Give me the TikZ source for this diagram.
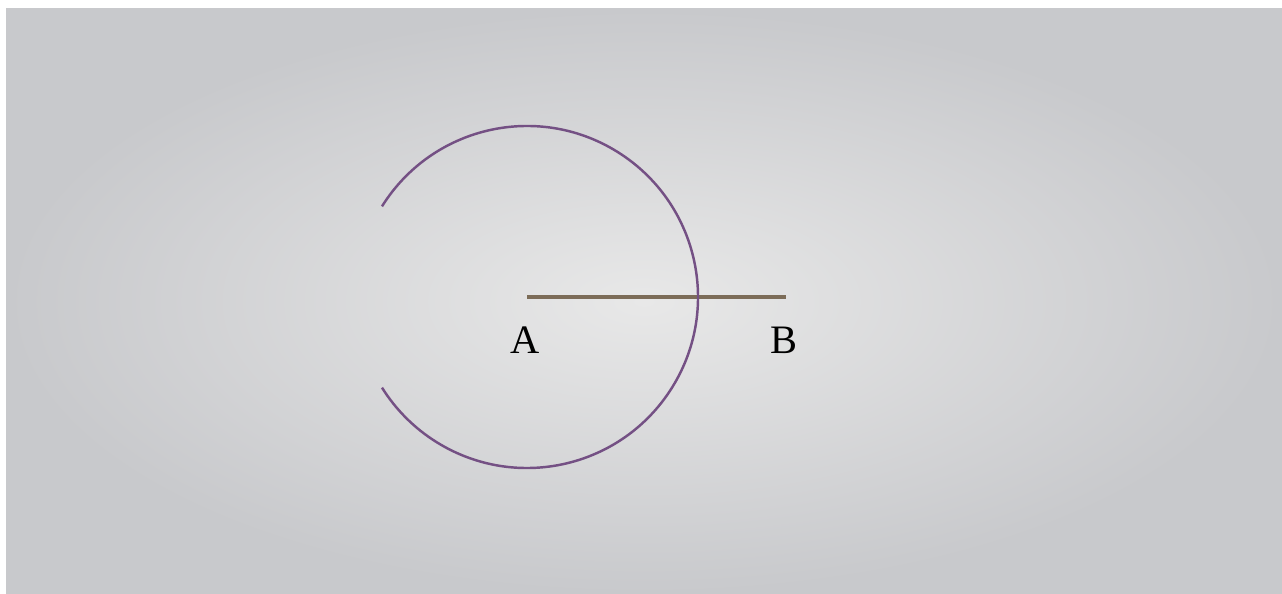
\documentclass[tikz,border=0pt]{standalone}
\usepackage{fontspec}
\setmainfont{Liberation Serif}
\usepackage{xcolor}
\usepackage{tikz}
\usetikzlibrary{calc,positioning}
\definecolor{arcpurple}{RGB}{116, 80, 132}
\definecolor{segbrown}{RGB}{124, 108, 88}
\definecolor{paperlight}{RGB}{232, 232, 232}
\definecolor{paperdark}{RGB}{200, 201, 204}

\begin{document}
\begin{tikzpicture}[x=0.02cm, y=-0.02cm]
        % Frame and paper
        \useasboundingbox (0,0) rectangle (1282,594);
        \fill[white] (0,0) rectangle (1282,594);
        \shade[inner color=paperlight, outer color=paperdark] (6,9) rectangle (1282,594);

        % Points
        \coordinate (a) at (527,297);
        \coordinate (b) at (786,297);
        \node[font=\fontsize{23}{27}\selectfont] (labA) at (525,340) {A};
        \node[font=\fontsize{23}{27}\selectfont] (labB) at (784,340) {B};

        % Segment AB
        \draw[segbrown, line width=2pt] (a) -- (b);

        % Arc centred at A
        \draw[arcpurple, line width=1.4pt] ($(a)+(-148:171)$) arc[start angle=-148, end angle=148, radius=171];
    \end{tikzpicture}
\end{document}
